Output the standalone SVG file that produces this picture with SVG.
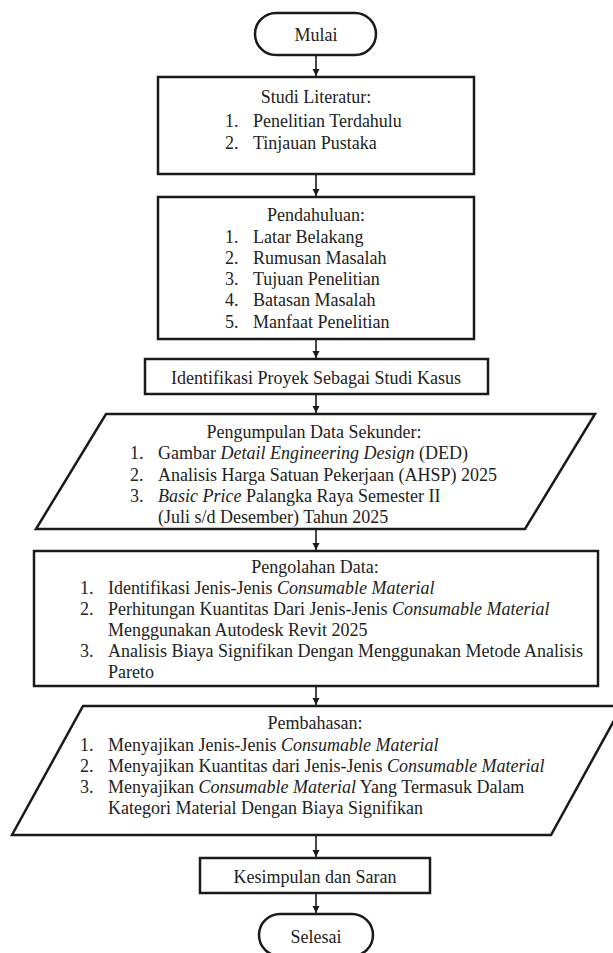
<svg xmlns="http://www.w3.org/2000/svg" width="613" height="953" viewBox="0 0 613 953">
<defs>
<style>
.s{fill:#fff;stroke:#1a1a1a;stroke-width:2.5}
.t{font-family:"Liberation Serif","Times New Roman",serif;font-size:18px;fill:#222}
.c{text-anchor:middle}
.i{font-style:italic}
.l{stroke:#1a1a1a;stroke-width:1.6;fill:none}
</style>
<marker id="ah" markerWidth="8" markerHeight="8" refX="7" refY="4" orient="auto" markerUnits="userSpaceOnUse">
<path d="M0,0.5 L7,4 L0,7.5 Z" fill="#1a1a1a"/>
</marker>
</defs>
<rect width="613" height="953" fill="#fff"/>
<g id="connectors">
<line class="l" x1="316" y1="55" x2="316" y2="76" marker-end="url(#ah)"/>
<line class="l" x1="316" y1="175" x2="316" y2="196" marker-end="url(#ah)"/>
<line class="l" x1="316" y1="340" x2="316" y2="358" marker-end="url(#ah)"/>
<line class="l" x1="316" y1="395" x2="316" y2="413" marker-end="url(#ah)"/>
<line class="l" x1="316" y1="530" x2="316" y2="550" marker-end="url(#ah)"/>
<line class="l" x1="316" y1="687" x2="316" y2="705" marker-end="url(#ah)"/>
<line class="l" x1="316" y1="836" x2="316" y2="857" marker-end="url(#ah)"/>
<line class="l" x1="316" y1="894" x2="316" y2="913" marker-end="url(#ah)"/>
</g>
<g id="mulai">
<rect class="s" x="255" y="13" width="121" height="42" rx="21"/>
<text class="t c" x="316" y="41">Mulai</text>
</g>
<g id="studi-literatur">
<rect class="s" x="158" y="77" width="316" height="97"/>
<text class="t c" x="316" y="103">Studi Literatur:</text>
<text class="t"><tspan x="225" y="127">1.</tspan><tspan x="253" y="127">Penelitian Terdahulu</tspan></text>
<text class="t"><tspan x="225" y="149">2.</tspan><tspan x="253" y="149">Tinjauan Pustaka</tspan></text>
</g>
<g id="pendahuluan">
<rect class="s" x="158" y="197" width="316" height="142"/>
<text class="t c" x="316" y="221">Pendahuluan:</text>
<text class="t"><tspan x="225" y="243">1.</tspan><tspan x="253" y="243">Latar Belakang</tspan></text>
<text class="t"><tspan x="225" y="264">2.</tspan><tspan x="253" y="264">Rumusan Masalah</tspan></text>
<text class="t"><tspan x="225" y="285">3.</tspan><tspan x="253" y="285">Tujuan Penelitian</tspan></text>
<text class="t"><tspan x="225" y="306">4.</tspan><tspan x="253" y="306">Batasan Masalah</tspan></text>
<text class="t"><tspan x="225" y="328">5.</tspan><tspan x="253" y="328">Manfaat Penelitian</tspan></text>
</g>
<g id="identifikasi">
<rect class="s" x="145" y="359" width="343" height="35"/>
<text class="t c" x="316" y="384">Identifikasi Proyek Sebagai Studi Kasus</text>
</g>
<g id="pengumpulan">
<polygon class="s" points="106,414 595,414 525,529 36,529"/>
<text class="t c" x="314" y="438">Pengumpulan Data Sekunder:</text>
<text class="t"><tspan x="130" y="459">1.</tspan><tspan x="158" y="459">Gambar </tspan><tspan class="i">Detail Engineering Design</tspan><tspan> (DED)</tspan></text>
<text class="t"><tspan x="130" y="481">2.</tspan><tspan x="158" y="481">Analisis Harga Satuan Pekerjaan (AHSP) 2025</tspan></text>
<text class="t"><tspan x="130" y="502">3.</tspan><tspan x="158" y="502" class="i">Basic Price</tspan><tspan> Palangka Raya Semester II</tspan></text>
<text class="t" x="158" y="523">(Juli s/d Desember) Tahun 2025</text>
</g>
<g id="pengolahan">
<rect class="s" x="34" y="551" width="564" height="135"/>
<text class="t c" x="315" y="573">Pengolahan Data:</text>
<text class="t"><tspan x="80" y="594">1.</tspan><tspan x="108" y="594">Identifikasi Jenis-Jenis </tspan><tspan class="i">Consumable Material</tspan></text>
<text class="t"><tspan x="80" y="615">2.</tspan><tspan x="108" y="615">Perhitungan Kuantitas Dari Jenis-Jenis </tspan><tspan class="i">Consumable Material</tspan></text>
<text class="t" x="108" y="636">Menggunakan Autodesk Revit 2025</text>
<text class="t"><tspan x="80" y="657">3.</tspan><tspan x="108" y="657">Analisis Biaya Signifikan Dengan Menggunakan Metode Analisis</tspan></text>
<text class="t" x="108" y="678">Pareto</text>
</g>
<g id="pembahasan">
<polygon class="s" points="83,706 622,706 551,835 12,835"/>
<text class="t c" x="315" y="729">Pembahasan:</text>
<text class="t"><tspan x="80" y="751">1.</tspan><tspan x="108" y="751">Menyajikan Jenis-Jenis </tspan><tspan class="i">Consumable Material</tspan></text>
<text class="t"><tspan x="80" y="772">2.</tspan><tspan x="108" y="772">Menyajikan Kuantitas dari Jenis-Jenis </tspan><tspan class="i">Consumable Material</tspan></text>
<text class="t"><tspan x="80" y="793">3.</tspan><tspan x="108" y="793">Menyajikan </tspan><tspan class="i">Consumable Material</tspan><tspan> Yang Termasuk Dalam</tspan></text>
<text class="t" x="108" y="814">Kategori Material Dengan Biaya Signifikan</text>
</g>
<g id="kesimpulan">
<rect class="s" x="200" y="858" width="230" height="35"/>
<text class="t c" x="315" y="883">Kesimpulan dan Saran</text>
</g>
<g id="selesai">
<rect class="s" x="259" y="914" width="114" height="42" rx="21"/>
<text class="t c" x="316" y="943">Selesai</text>
</g>
</svg>
